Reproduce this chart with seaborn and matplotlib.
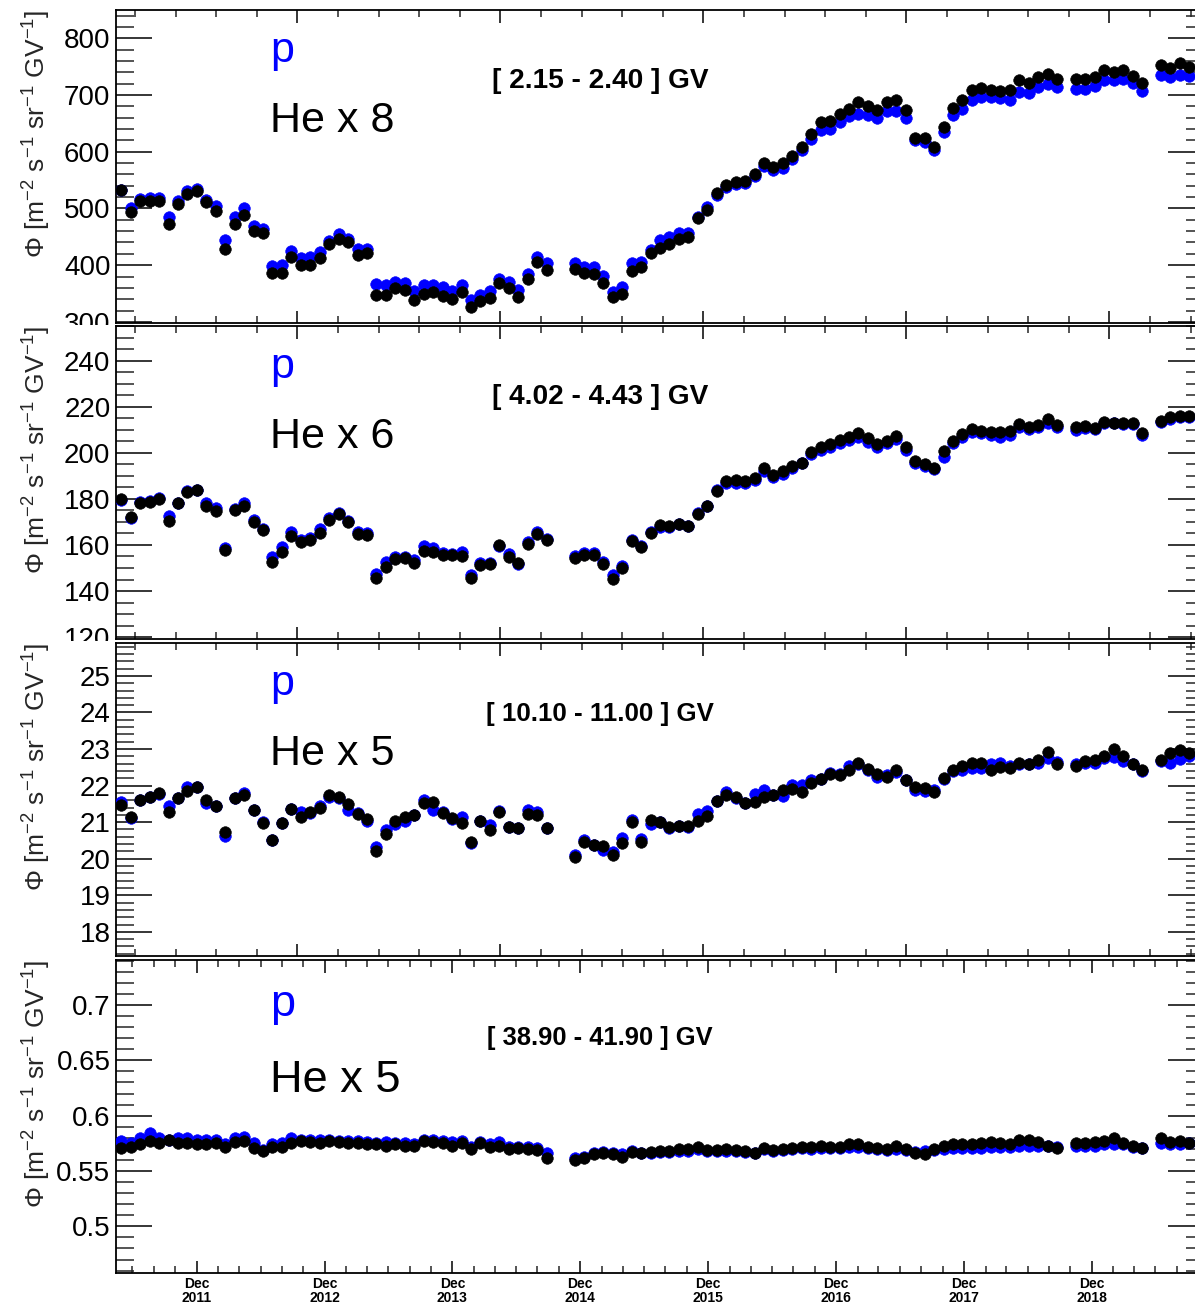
import numpy as np
import pandas as pd
import matplotlib
matplotlib.use("Agg")
import matplotlib.pyplot as plt
import matplotlib.dates as mdates
import matplotlib.ticker as mticker
from matplotlib.transforms import Bbox, TransformedBbox
import seaborn as sns

# ---------------- data (one value per Bartels rotation, None = missing) ----------------
first_rotation = "2011-04-30"
n_rot = 114

p_1 = [532, 500, 516, 518, 518, 485, 513, 531, 535, 515,
       504, 444, 485, 500, 469, 463, 398, 401, 425, 412,
       415, 424, 443, 455, 447, 429, 428, 366, 365, 371,
       369, 355, 365, 365, 361, 355, 365, 339, 347, 355,
       376, 371, 357, 385, 414, 403, None, None, 403, 397,
       397, 381, 353, 362, 403, 405, 426, 444, 450, 456,
       457, 485, 503, 524, 538, 544, 545, 557, 575, 568,
       572, 588, 603, 622, 638, 641, 653, 663, 666, 665,
       659, 671, 672, 659, 621, 618, 603, 635, 665, 676,
       691, 696, 696, 694, 691, 706, 703, 715, 719, 715,
       None, 710, 710, 716, 726, 726, 728, 721, 708, None,
       735, 732, 735, 734]
he_1 = [532, 494, 513, 513, 513, 472, 508, 525, 531, 512,
        496, 428, 472, 489, 461, 456, 386, 386, 415, 400,
        400, 412, 437, 447, 441, 418, 421, 347, 347, 359,
        356, 338, 349, 353, 345, 341, 353, 326, 336, 342,
        368, 359, 343, 375, 406, 392, None, None, 393, 386,
        384, 369, 344, 350, 390, 397, 421, 431, 437, 446,
        449, 484, 497, 528, 541, 547, 549, 561, 581, 574,
        581, 593, 609, 632, 653, 655, 666, 675, 688, 681,
        674, 688, 691, 674, 625, 624, 609, 644, 678, 691,
        709, 712, 709, 707, 709, 726, 722, 731, 738, 728,
        None, 728, 728, 731, 744, 741, 745, 734, 722, None,
        753, 747, 756, 750]

p_2 = [179.4, 171.8, 178.7, 179.0, 180.4, 172.5, 178.3, 183.3, 184.0, 178.3,
       176.1, 158.5, 175.7, 178.3, 170.8, 167.1, 154.6, 158.9, 165.7, 162.2,
       163.2, 166.8, 171.8, 174.0, 170.4, 165.7, 165.1, 147.5, 152.5, 154.6,
       154.6, 153.6, 159.4, 158.5, 156.5, 156.1, 156.8, 146.8, 152.2, 152.2,
       159.4, 156.1, 151.8, 161.4, 165.7, 162.8, None, None, 155.1, 156.5,
       156.5, 152.8, 147.0, 150.8, 162.2, 159.5, 165.7, 168.0, 167.8, 169.0,
       168.1, 173.9, 176.8, 183.8, 187.0, 187.0, 186.7, 188.4, 192.2, 189.6,
       191.0, 193.6, 195.4, 199.4, 201.4, 202.6, 204.3, 205.5, 207.0, 204.8,
       202.6, 204.1, 205.8, 201.2, 195.4, 194.2, 192.8, 198.3, 204.1, 207.0,
       209.1, 208.4, 207.7, 207.0, 207.7, 211.3, 210.1, 211.0, 213.0, 211.3,
       None, 209.9, 210.6, 210.1, 213.0, 212.8, 212.5, 212.5, 207.7, None,
       213.5, 214.5, 215.4, 215.4]
he_2 = [180.0, 172.0, 178.0, 178.6, 180.0, 170.4, 178.0, 182.9, 183.7, 177.1,
        174.7, 157.9, 175.1, 177.1, 170.0, 166.5, 152.5, 156.8, 163.7, 161.4,
        162.2, 165.4, 170.7, 173.6, 170.1, 164.7, 164.2, 145.6, 150.3, 153.9,
        154.2, 152.2, 157.5, 157.1, 155.6, 155.6, 155.4, 145.6, 151.1, 151.8,
        159.9, 154.6, 152.2, 160.4, 164.7, 162.2, None, None, 154.2, 155.6,
        155.6, 151.8, 145.3, 149.9, 161.8, 159.0, 165.0, 168.5, 168.3, 169.3,
        168.3, 173.6, 176.8, 183.3, 187.8, 188.4, 187.7, 189.1, 193.2, 190.3,
        192.2, 194.2, 195.7, 200.4, 202.6, 203.8, 205.5, 206.7, 208.7, 206.2,
        203.8, 205.2, 207.2, 202.3, 196.5, 195.1, 193.2, 200.7, 205.1, 208.0,
        210.1, 209.4, 208.8, 209.1, 209.6, 212.5, 211.3, 212.0, 214.5, 212.0,
        None, 211.0, 211.6, 210.9, 213.5, 213.0, 213.0, 213.0, 208.7, None,
        213.9, 215.4, 215.9, 215.9]

p_3 = [21.56, 21.11, 21.61, 21.70, 21.77, 21.43, 21.67, 21.95, 21.97, 21.52,
       21.43, 20.61, 21.65, 21.79, 21.34, 21.00, 20.52, 20.97, 21.36, 21.27,
       21.25, 21.43, 21.70, 21.67, 21.34, 21.25, 21.02, 20.31, 20.79, 20.95,
       21.02, 21.20, 21.61, 21.34, 21.29, 21.09, 21.15, 20.43, 21.02, 20.93,
       21.31, 20.88, 20.85, 21.34, 21.29, 20.84, None, None, 20.11, 20.52,
       20.38, 20.25, 20.18, 20.56, 21.06, 20.54, 20.96, 21.00, 20.85, 20.90,
       20.88, 21.22, 21.31, 21.59, 21.82, 21.66, 21.52, 21.77, 21.89, 21.75,
       21.71, 22.01, 22.03, 22.14, 22.19, 22.35, 22.32, 22.53, 22.60, 22.44,
       22.23, 22.30, 22.38, 22.14, 21.89, 21.84, 21.89, 22.17, 22.40, 22.44,
       22.49, 22.47, 22.58, 22.63, 22.53, 22.58, 22.58, 22.63, 22.75, 22.65,
       None, 22.60, 22.63, 22.63, 22.75, 22.77, 22.67, 22.60, 22.41, None,
       22.67, 22.63, 22.72, 22.81]
he_3 = [21.47, 21.15, 21.61, 21.70, 21.79, 21.29, 21.65, 21.84, 21.95, 21.61,
        21.45, 20.73, 21.65, 21.75, 21.34, 20.97, 20.52, 20.97, 21.36, 21.15,
        21.27, 21.40, 21.73, 21.70, 21.49, 21.22, 21.09, 20.20, 20.67, 21.04,
        21.15, 21.20, 21.52, 21.54, 21.25, 21.11, 20.97, 20.45, 21.02, 20.79,
        21.29, 20.88, 20.85, 21.22, 21.20, 20.84, None, None, 20.04, 20.47,
        20.38, 20.34, 20.11, 20.43, 21.00, 20.47, 21.05, 21.00, 20.88, 20.90,
        20.90, 21.03, 21.18, 21.57, 21.75, 21.68, 21.52, 21.55, 21.68, 21.73,
        21.89, 21.92, 21.82, 22.07, 22.17, 22.32, 22.29, 22.42, 22.63, 22.46,
        22.32, 22.23, 22.44, 22.14, 21.95, 21.94, 21.82, 22.21, 22.44, 22.53,
        22.63, 22.63, 22.42, 22.51, 22.49, 22.63, 22.58, 22.69, 22.93, 22.58,
        None, 22.53, 22.67, 22.69, 22.81, 23.00, 22.81, 22.58, 22.44, None,
        22.69, 22.90, 22.97, 22.88]

p_4 = [0.577, 0.575, 0.580, 0.584, 0.580, 0.578, 0.580, 0.580, 0.578, 0.578,
       0.578, 0.574, 0.580, 0.581, 0.575, 0.569, 0.574, 0.575, 0.580, 0.578,
       0.578, 0.578, 0.578, 0.577, 0.577, 0.577, 0.576, 0.575, 0.576, 0.575,
       0.575, 0.574, 0.578, 0.578, 0.577, 0.576, 0.577, 0.572, 0.576, 0.574,
       0.576, 0.572, 0.572, 0.572, 0.571, 0.566, None, None, 0.562, 0.563,
       0.566, 0.567, 0.566, 0.565, 0.568, 0.566, 0.566, 0.567, 0.567, 0.568,
       0.568, 0.570, 0.568, 0.568, 0.568, 0.568, 0.567, 0.566, 0.570, 0.568,
       0.569, 0.570, 0.571, 0.570, 0.571, 0.571, 0.571, 0.572, 0.572, 0.571,
       0.570, 0.569, 0.570, 0.569, 0.567, 0.568, 0.569, 0.570, 0.571, 0.571,
       0.571, 0.571, 0.572, 0.572, 0.572, 0.573, 0.573, 0.573, 0.573, 0.572,
       None, 0.573, 0.573, 0.573, 0.574, 0.574, 0.574, 0.572, 0.571, None,
       0.575, 0.574, 0.574, 0.575]
he_4 = [0.571, 0.572, 0.574, 0.577, 0.575, 0.578, 0.575, 0.575, 0.574, 0.574,
        0.575, 0.572, 0.576, 0.577, 0.571, 0.568, 0.572, 0.572, 0.575, 0.577,
        0.576, 0.575, 0.577, 0.576, 0.575, 0.575, 0.574, 0.574, 0.573, 0.574,
        0.573, 0.573, 0.577, 0.576, 0.575, 0.573, 0.575, 0.570, 0.575, 0.572,
        0.573, 0.570, 0.571, 0.570, 0.569, 0.562, None, None, 0.560, 0.562,
        0.565, 0.566, 0.565, 0.563, 0.567, 0.566, 0.567, 0.568, 0.568, 0.570,
        0.570, 0.572, 0.569, 0.569, 0.570, 0.569, 0.568, 0.566, 0.571, 0.569,
        0.570, 0.571, 0.572, 0.572, 0.573, 0.572, 0.572, 0.574, 0.574, 0.572,
        0.571, 0.570, 0.573, 0.570, 0.566, 0.565, 0.570, 0.573, 0.574, 0.574,
        0.574, 0.575, 0.576, 0.575, 0.574, 0.578, 0.578, 0.576, 0.573, 0.571,
        None, 0.575, 0.575, 0.576, 0.577, 0.580, 0.575, 0.573, 0.571, None,
        0.580, 0.576, 0.577, 0.575]

bin_labels = ["[ 2.15 - 2.40 ] GV", "[ 4.02 - 4.43 ] GV",
              "[ 10.10 - 11.00 ] GV", "[ 38.90 - 41.90 ] GV"]
he_labels = ["He x 8", "He x 6", "He x 5", "He x 5"]
p_label = "p"
y_title = "\u03a6 [m$^{-2}$ s$^{-1}$ sr$^{-1}$ GV$^{-1}$]"
x_limits = ("2011-04-15", "2019-10-18")

# ---------------- style ----------------
sns.set_theme(style="ticks")
plt.rcParams["font.family"] = ["Liberation Sans", "DejaVu Sans"]
plt.rcParams["mathtext.fontset"] = "custom"
plt.rcParams["mathtext.rm"] = "Liberation Sans"
plt.rcParams["mathtext.it"] = "Liberation Sans:italic"
plt.rcParams["mathtext.bf"] = "Liberation Sans:bold"

W, H = 1195, 1304
fig = plt.figure(figsize=(W / 100, H / 100), dpi=100)

L, R = 116, 1204
tops = [10, 326, 643, 960]
bots = [323, 639, 956, 1273]
clips = [(0, 325), (325, 641), (641, 958), (958, 1304)]
ylims = [(298, 850), (119.2, 255.0), (17.34, 25.9), (0.4578, 0.7407)]
ymaj = [100, 20, 1, 0.05]
ymin_step = [20, 5, 0.2, 0.01]
bin_fs = [20.2, 20.2, 18.6, 18.4]

dates = pd.date_range(first_rotation, periods=n_rot, freq="27D")
series = [(p_1, he_1), (p_2, he_2), (p_3, he_3), (p_4, he_4)]

BLUE = "#0000ff"
xl = [mdates.date2num(pd.Timestamp(d)) for d in x_limits]

# tick grid of the upper pads (ROOT time divisions)
upper_ticks = pd.date_range("2011-06-08", "2019-10-18", freq="116D")
upper_major = [mdates.date2num(d) for k, d in enumerate(upper_ticks) if k % 5 == 4]
upper_minor = [mdates.date2num(d) for k, d in enumerate(upper_ticks) if k % 5 != 4]
dec_major = [mdates.date2num(pd.Timestamp(f"{y}-12-01")) for y in range(2011, 2019)]
minor4 = [mdates.date2num(d) for d in pd.date_range("2011-02-01", "2019-12-01", freq="2MS")]
minor4 = [m for m in minor4 if m not in dec_major]

axes = []
for k in range(4):
    t, b = tops[k], bots[k]
    ax = fig.add_axes([L / W, 1 - b / H, (R - L) / W, (b - t) / H])
    axes.append(ax)
    pv, hv = series[k]
    df = pd.DataFrame({"date": dates, "p": pd.to_numeric(pd.Series(pv), errors="coerce"),
                       "he": pd.to_numeric(pd.Series(hv), errors="coerce")})
    dfp = df.dropna(subset=["p"])
    dfh = df.dropna(subset=["he"])
    sns.scatterplot(data=dfp, x="date", y="p", color=BLUE, s=70, linewidth=0.4,
                    edgecolor=BLUE, marker="o", ax=ax, zorder=3)
    sns.scatterplot(data=dfh, x="date", y="he", color="black", s=70, linewidth=0.4,
                    edgecolor="black", marker="o", ax=ax, zorder=4)
    ax.set_xlim(*xl)
    ax.set_ylim(*ylims[k])
    ax.set_xlabel("")
    ax.set_ylabel(y_title, fontsize=19, loc="top", labelpad=0)
    ax.yaxis.set_label_coords(-0.058, 1.0)

    ax.yaxis.set_major_locator(mticker.MultipleLocator(ymaj[k]))
    ax.yaxis.set_minor_locator(mticker.MultipleLocator(ymin_step[k]))
    ax.yaxis.set_major_formatter(mticker.FuncFormatter(lambda v, pos: f"{v:g}"))
    ax.tick_params(axis="y", which="major", direction="in", left=True, right=True,
                   length=26, width=1.1, labelsize=20, pad=4, colors="black")
    ax.tick_params(axis="y", which="minor", direction="in", left=True, right=True,
                   length=13, width=1.1)
    if k < 3:
        ax.xaxis.set_major_locator(mticker.FixedLocator(upper_major))
        ax.xaxis.set_minor_locator(mticker.FixedLocator(upper_minor))
        ax.tick_params(axis="x", which="both", labelbottom=False)
    else:
        ax.xaxis.set_major_locator(mticker.FixedLocator(dec_major))
        ax.xaxis.set_minor_locator(mticker.FixedLocator(minor4))
        ax.xaxis.set_major_formatter(mticker.FuncFormatter(
            lambda v, pos: mdates.num2date(v).strftime("%b\n%Y")))
        ax.tick_params(axis="x", which="major", labelsize=10, pad=3)
    ax.tick_params(axis="x", which="major", direction="in", top=True, bottom=True,
                   length=9, width=1.1, colors="black")
    ax.tick_params(axis="x", which="minor", direction="in", top=True, bottom=True,
                   length=5, width=1.1)
    for sp in ax.spines.values():
        sp.set_linewidth(1.3)
        sp.set_color("black")

    if k < 3:
        yp, yhe, ybin, fs = 0.833, 0.609, 0.751, 31
    else:
        yp, yhe, ybin, fs = 0.822, 0.578, 0.728, 32.5
    ax.text(0.1415, yp, p_label, transform=ax.transAxes, color=BLUE,
            fontsize=fs, va="baseline", ha="left")
    ax.text(0.1415, yhe, he_labels[k], transform=ax.transAxes, color="black",
            fontsize=fs, va="baseline", ha="left")
    ax.text(0.445, ybin, bin_labels[k], transform=ax.transAxes, color="black",
            fontsize=bin_fs[k], fontweight="bold", va="baseline", ha="center")

fig.canvas.draw()
for k, ax in enumerate(axes):
    lo, hi = clips[k]
    cb = TransformedBbox(Bbox([[0, 1 - hi / H], [1, 1 - lo / H]]), fig.transFigure)
    for tk in ax.yaxis.get_major_ticks():
        tk.label1.set_clip_box(cb)
        tk.label1.set_clip_on(True)
    ax.yaxis.label.set_clip_box(cb)
    ax.yaxis.label.set_clip_on(True)
for lab in axes[3].get_xticklabels():
    lab.set_fontweight("bold")
    lab.set_linespacing(1.0)

fig.savefig("out.png", dpi=100, facecolor="white")
